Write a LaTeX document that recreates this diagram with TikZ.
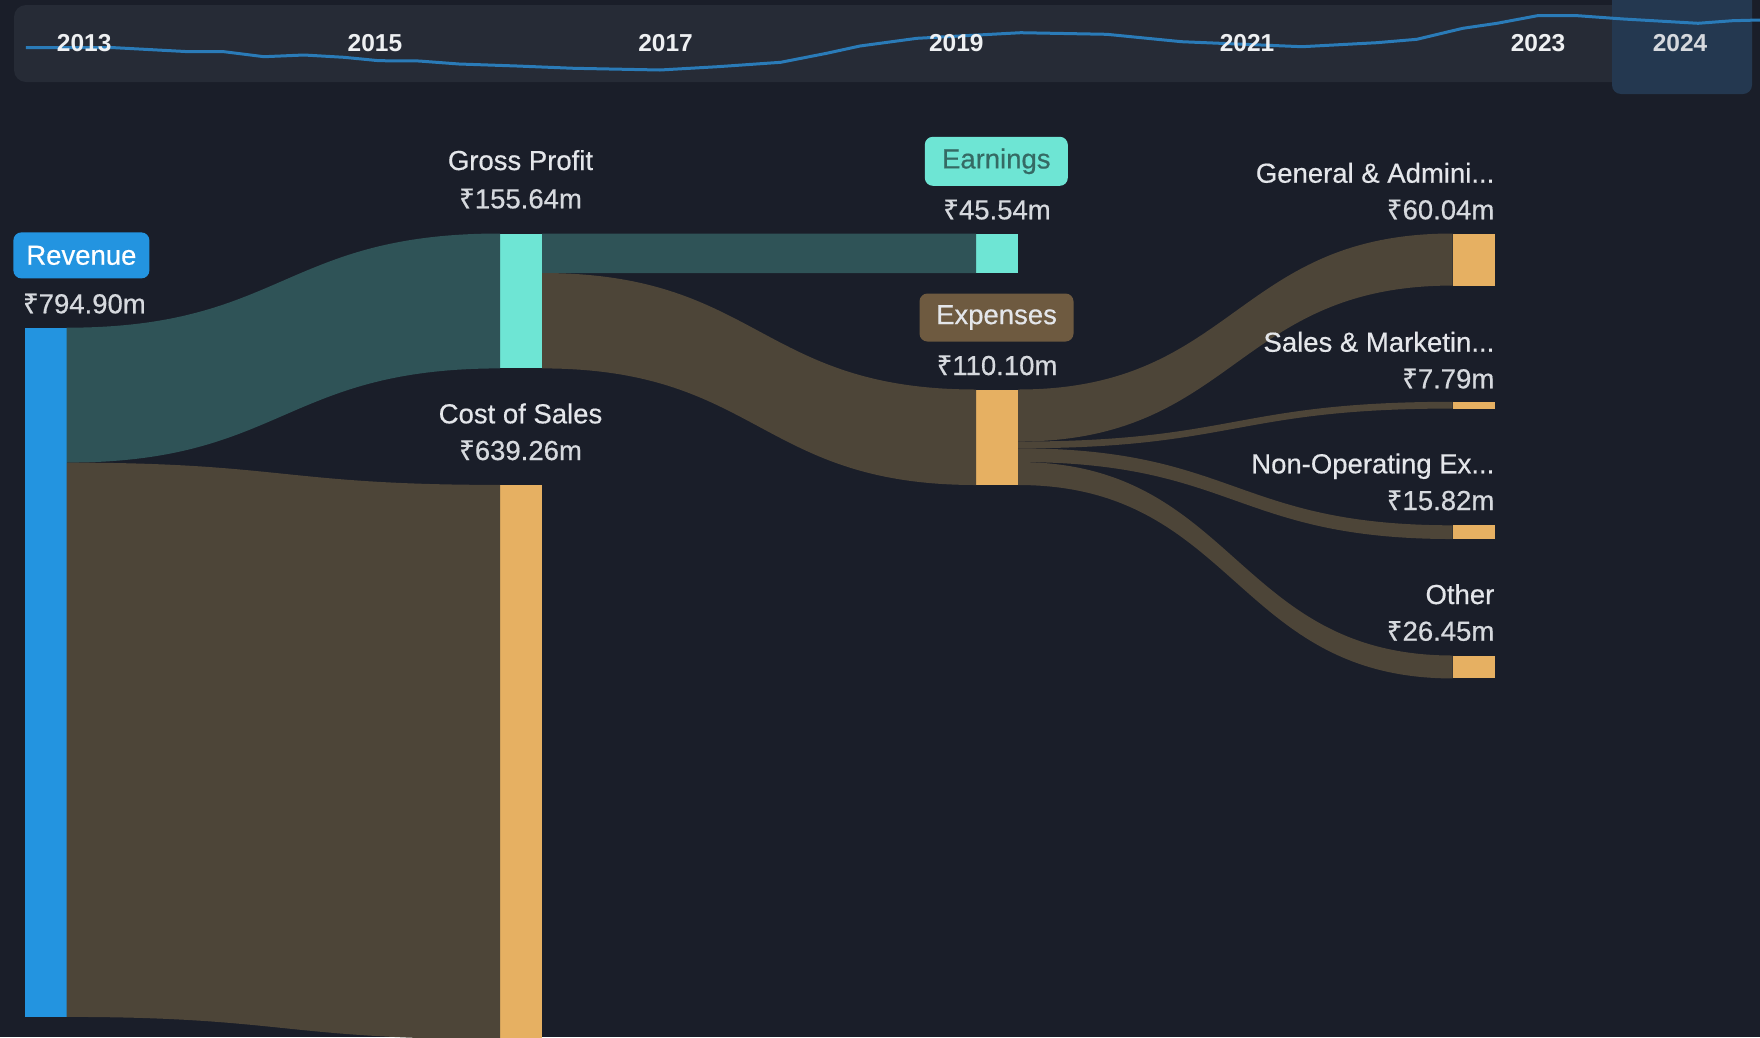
\documentclass[tikz,border=0pt]{standalone}
\usepackage{fontspec}
\setmainfont{Liberation Sans}
\newfontfamily\medfont{Liberation Sans}[FakeBold=0.5]
\newfontfamily\rupeefont{Noto Sans}[FakeBold=0.5]
\usetikzlibrary{calc}
\definecolor{bgC}{HTML}{1A1E29}
\definecolor{bandC}{HTML}{262B36}
\definecolor{hlC}{HTML}{243850}
\definecolor{lineC}{HTML}{2A7BB8}
\definecolor{blueC}{HTML}{2394E0}
\definecolor{tealC}{HTML}{6EE5D4}
\definecolor{orangeC}{HTML}{E6B062}
\definecolor{tealFlow}{HTML}{2F5357}
\definecolor{brownFlow}{HTML}{4D4538}
\definecolor{expBox}{HTML}{6E5A40}
\definecolor{earnTxt}{HTML}{356A64}
\definecolor{txtC}{HTML}{E4E6EA}
\definecolor{valC}{HTML}{D6D9DE}
\definecolor{yrC}{HTML}{EEF0F2}
\newcommand\Rs{{\rupeefont ₹}}
\newcommand\sankeyflow[5]{%
  \path ($(#2)!0.5!(#4)$) coordinate (fmA) ($(#3)!0.5!(#5)$) coordinate (fmB);
  \fill[#1] (#2) .. controls (fmA |- #2) and (fmA |- #4) .. (#4) -- (#5)
     .. controls (fmB |- #5) and (fmB |- #3) .. (#3) -- cycle;}
\tikzset{
  bar/.style={draw=none, inner sep=0pt, outer sep=0pt, minimum width=42pt, anchor=north west},
  ttl/.style={font=\medfont\fontsize{27.5}{32}\selectfont, text=txtC, inner sep=0pt},
  val/.style={font=\medfont\fontsize{27.5}{32}\selectfont, text=valC, inner sep=0pt},
  yr/.style={font=\fontsize{24.5}{28}\selectfont\bfseries, text=yrC, inner sep=0pt, anchor=base},
  pill/.style={rounded corners=8pt, inner sep=0pt, font=\medfont\fontsize{27.5}{32}\selectfont}
}
\begin{document}
\begin{tikzpicture}[x=1pt,y=-1pt]
\useasboundingbox (0,0) rectangle (1760,1037);
\fill[bgC] (0,0) rectangle (1760,1037);
% timeline band
\fill[bandC, rounded corners=12pt] (14,5) rectangle (1752,82);
\fill[hlC, rounded corners=9pt] (1612,-10) rectangle (1752,94);
\draw[lineC, line width=3pt, line join=round]
  (25.8,47.7) -- (114.8,47.7) -- (189,51.7) -- (224,51.7) -- (264,56.7) -- (304,55)
  -- (344,57.3) -- (379,60.7) -- (419,61) -- (459,64) -- (517,66) -- (574,68.3)
  -- (660,70) -- (717.6,66.7) -- (780.7,62.3) -- (826.6,53.3) -- (860,46)
  -- (917,38.3) -- (1020.7,32.7) -- (1106.8,34.3) -- (1181.5,41.7) -- (1302,46.7)
  -- (1376.7,42.7) -- (1416.8,39.3) -- (1462.8,28.3) -- (1497,23.3) -- (1537.4,15.7)
  -- (1577.6,15.7) -- (1623.5,19) -- (1698,23.3) -- (1732.6,20.7) -- (1760,20);
\node[yr] (y13) at (84.2,51.7) {2013};
\node[yr] (y15) at (374.9,51.7) {2015};
\node[yr] (y17) at (665.6,51.7) {2017};
\node[yr] (y19) at (956.3,51.7) {2019};
\node[yr] (y21) at (1247,51.7) {2021};
\node[yr] (y23) at (1538,51.7) {2023};
\node[yr, text=valC] (y24) at (1680,51.7) {2024};
% bars
\node[bar, fill=blueC, minimum height=689.2pt] (rev) at (24.5,327.7) {};
\node[bar, fill=tealC, minimum height=134.9pt] (gp) at (500,233.5) {};
\node[bar, fill=orangeC, minimum height=554.3pt] (cos) at (500,484.9) {};
\node[bar, fill=tealC, minimum height=39.5pt] (earn) at (976,233.5) {};
\node[bar, fill=orangeC, minimum height=95.5pt] (exp) at (976,389.5) {};
\node[bar, fill=orangeC, minimum height=52.05pt] (ga) at (1452.5,233.5) {};
\node[bar, fill=orangeC, minimum height=6.75pt] (sm) at (1452.5,401.8) {};
\node[bar, fill=orangeC, minimum height=13.72pt] (no) at (1452.5,525.3) {};
\node[bar, fill=orangeC, minimum height=22.93pt] (ot) at (1452.5,655.5) {};
% split points
\coordinate (revS) at ($(rev.north east)+(0,134.9)$);
\coordinate (gpS) at ($(gp.north east)+(0,39.5)$);
\coordinate (expS1) at ($(exp.north east)+(0,52.05)$);
\coordinate (expS2) at ($(expS1)+(0,6.75)$);
\coordinate (expS3) at ($(expS2)+(0,13.72)$);
% flows
\sankeyflow{tealFlow}{rev.north east}{revS}{gp.north west}{gp.south west}
\sankeyflow{brownFlow}{revS}{rev.south east}{cos.north west}{cos.south west}
\sankeyflow{tealFlow}{gp.north east}{gpS}{earn.north west}{earn.south west}
\sankeyflow{brownFlow}{gpS}{gp.south east}{exp.north west}{exp.south west}
\sankeyflow{brownFlow}{exp.north east}{expS1}{ga.north west}{ga.south west}
\sankeyflow{brownFlow}{expS1}{expS2}{sm.north west}{sm.south west}
\sankeyflow{brownFlow}{expS2}{expS3}{no.north west}{no.south west}
\sankeyflow{brownFlow}{expS3}{exp.south east}{ot.north west}{ot.south west}
% labels
\node[pill, fill=blueC, text=white, minimum width=136pt, minimum height=46pt] (revL) at (81.4,255.4) {Revenue};
\node[val, anchor=base west] (revV) at (22.8,313.3) {\Rs794.90m};
\node[ttl, anchor=base] (gpL) at (520.5,170) {Gross Profit};
\node[val, anchor=base] (gpV) at (520.5,208.3) {\Rs155.64m};
\node[ttl, anchor=base] (cosL) at (520.5,423.3) {Cost of Sales};
\node[val, anchor=base] (cosV) at (520.5,460) {\Rs639.26m};
\node[pill, fill=tealC, text=earnTxt, minimum width=143pt, minimum height=49pt] (earnL) at (996.3,161.3) {Earnings};
\node[val, anchor=base] (earnV) at (997,219.3) {\Rs45.54m};
\node[pill, fill=expBox, text=txtC, minimum width=154pt, minimum height=48pt] (expL) at (996.5,317.5) {Expenses};
\node[val, anchor=base] (expV) at (997,375) {\Rs110.10m};
\node[ttl, anchor=base east] (gaL) at (1494.5,182.7) {General \& Admini...};
\node[val, anchor=base east] (gaV) at (1494.5,219.3) {\Rs60.04m};
\node[ttl, anchor=base east] (smL) at (1494.5,351.7) {Sales \& Marketin...};
\node[val, anchor=base east] (smV) at (1494.5,388.3) {\Rs7.79m};
\node[ttl, anchor=base east] (noL) at (1494.5,473.3) {Non-Operating Ex...};
\node[val, anchor=base east] (noV) at (1494.5,510) {\Rs15.82m};
\node[ttl, anchor=base east] (otL) at (1494.5,604) {Other};
\node[val, anchor=base east] (otV) at (1494.5,640.7) {\Rs26.45m};
\end{tikzpicture}
\end{document}
